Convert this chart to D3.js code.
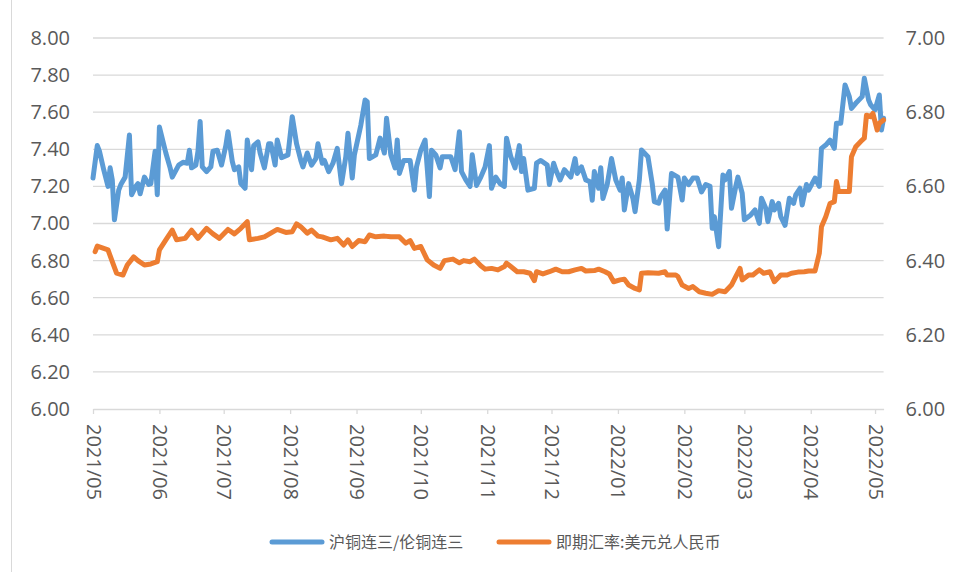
<!DOCTYPE html>
<html><head><meta charset="utf-8">
<script src="https://cdn.jsdelivr.net/npm/d3@7/dist/d3.min.js"></script>
<style>body{margin:0;background:#fff}svg{display:block}</style>
</head><body><svg id="c" width="961" height="572"></svg>
<script>
const seriesNames = ["沪铜连三/伦铜连三", "即期汇率:美元兑人民币"];
const leftTicks = [6.0, 6.2, 6.4, 6.6, 6.8, 7.0, 7.2, 7.4, 7.6, 7.8, 8.0];
const rightTicks = [6.0, 6.2, 6.4, 6.6, 6.8, 7.0];
const monthTicks = ["2021-05-01","2021-06-01","2021-07-01","2021-08-01","2021-09-01","2021-10-01","2021-11-01","2021-12-01","2022-01-01","2022-02-01","2022-03-01","2022-04-01","2022-05-01"];
const copperRatio = [
["2021-05-01",7.245],["2021-05-03",7.42],["2021-05-04",7.39],["2021-05-06",7.29],["2021-05-08",7.20],["2021-05-09",7.30],["2021-05-10",7.235],["2021-05-11",7.02],["2021-05-13",7.18],["2021-05-14",7.21],["2021-05-16",7.25],["2021-05-18",7.477],["2021-05-19",7.155],["2021-05-21",7.20],["2021-05-22",7.215],["2021-05-23",7.16],["2021-05-25",7.25],["2021-05-27",7.21],["2021-05-28",7.215],["2021-05-30",7.39],["2021-05-31",7.155],
["2021-06-01",7.52],["2021-06-04",7.38],["2021-06-06",7.30],["2021-06-07",7.25],["2021-06-10",7.315],["2021-06-12",7.33],["2021-06-14",7.325],["2021-06-15",7.395],["2021-06-16",7.30],["2021-06-18",7.315],["2021-06-19",7.39],["2021-06-20",7.55],["2021-06-21",7.305],["2021-06-23",7.28],["2021-06-25",7.305],["2021-06-26",7.39],["2021-06-28",7.395],["2021-06-30",7.315],
["2021-07-02",7.42],["2021-07-03",7.495],["2021-07-05",7.335],["2021-07-06",7.29],["2021-07-08",7.305],["2021-07-09",7.215],["2021-07-11",7.19],["2021-07-12",7.45],["2021-07-14",7.29],["2021-07-15",7.42],["2021-07-17",7.44],["2021-07-18",7.38],["2021-07-20",7.30],["2021-07-22",7.43],["2021-07-23",7.43],["2021-07-25",7.315],["2021-07-26",7.45],["2021-07-28",7.355],["2021-07-31",7.37],
["2021-08-02",7.576],["2021-08-04",7.43],["2021-08-06",7.34],["2021-08-07",7.305],["2021-08-09",7.38],["2021-08-11",7.315],["2021-08-13",7.35],["2021-08-14",7.43],["2021-08-16",7.325],["2021-08-17",7.34],["2021-08-19",7.28],["2021-08-21",7.325],["2021-08-23",7.405],["2021-08-25",7.215],["2021-08-27",7.36],["2021-08-28",7.486],["2021-08-30",7.245],["2021-08-31",7.37],
["2021-09-03",7.53],["2021-09-05",7.666],["2021-09-06",7.657],["2021-09-07",7.35],["2021-09-10",7.37],["2021-09-12",7.46],["2021-09-14",7.38],["2021-09-15",7.567],["2021-09-17",7.37],["2021-09-19",7.30],["2021-09-20",7.45],["2021-09-21",7.27],["2021-09-23",7.34],["2021-09-26",7.34],["2021-09-28",7.18],["2021-09-29",7.305],
["2021-10-01",7.395],["2021-10-03",7.45],["2021-10-05",7.145],["2021-10-06",7.395],["2021-10-08",7.37],["2021-10-10",7.30],["2021-10-11",7.36],["2021-10-15",7.36],["2021-10-17",7.29],["2021-10-19",7.495],["2021-10-20",7.28],["2021-10-22",7.235],["2021-10-24",7.20],["2021-10-25",7.37],["2021-10-27",7.205],["2021-10-29",7.25],["2021-10-31",7.305],
["2021-11-02",7.42],["2021-11-03",7.19],["2021-11-05",7.25],["2021-11-07",7.215],["2021-11-09",7.20],["2021-11-10",7.46],["2021-11-12",7.36],["2021-11-14",7.30],["2021-11-16",7.42],["2021-11-17",7.28],["2021-11-18",7.35],["2021-11-20",7.18],["2021-11-23",7.19],["2021-11-24",7.325],["2021-11-26",7.34],["2021-11-29",7.315],["2021-11-30",7.21],
["2021-12-02",7.325],["2021-12-03",7.29],["2021-12-05",7.235],["2021-12-07",7.29],["2021-12-10",7.25],["2021-12-12",7.35],["2021-12-13",7.27],["2021-12-15",7.305],["2021-12-17",7.235],["2021-12-19",7.225],["2021-12-20",7.125],["2021-12-21",7.28],["2021-12-23",7.19],["2021-12-24",7.30],["2021-12-25",7.135],["2021-12-27",7.21],["2021-12-29",7.35],["2021-12-31",7.235],
["2022-01-02",7.18],["2022-01-03",7.245],["2022-01-04",7.073],["2022-01-06",7.215],["2022-01-08",7.135],["2022-01-09",7.064],["2022-01-11",7.235],["2022-01-12",7.396],["2022-01-15",7.36],["2022-01-17",7.215],["2022-01-18",7.118],["2022-01-20",7.109],["2022-01-21",7.145],["2022-01-23",7.18],["2022-01-24",6.97],["2022-01-26",7.27],["2022-01-29",7.25],["2022-01-31",7.127],
["2022-02-01",7.245],["2022-02-03",7.21],["2022-02-05",7.245],["2022-02-07",7.245],["2022-02-09",7.17],["2022-02-11",7.21],["2022-02-13",7.20],["2022-02-14",6.974],["2022-02-15",7.037],["2022-02-17",6.875],["2022-02-19",7.261],["2022-02-20",7.235],["2022-02-22",7.28],["2022-02-23",7.082],["2022-02-25",7.20],["2022-02-26",7.25],["2022-02-28",7.163],
["2022-03-01",7.02],["2022-03-04",7.046],["2022-03-06",7.073],["2022-03-08",7.001],["2022-03-09",7.136],["2022-03-11",7.082],["2022-03-12",7.01],["2022-03-14",7.118],["2022-03-15",7.073],["2022-03-17",7.109],["2022-03-18",7.037],["2022-03-20",6.99],["2022-03-22",7.136],["2022-03-24",7.109],["2022-03-25",7.154],["2022-03-27",7.19],["2022-03-28",7.10],["2022-03-30",7.21],["2022-03-31",7.18],
["2022-04-03",7.245],["2022-04-05",7.20],["2022-04-06",7.405],["2022-04-08",7.423],["2022-04-10",7.45],["2022-04-12",7.405],["2022-04-13",7.54],["2022-04-15",7.54],["2022-04-17",7.747],["2022-04-19",7.684],["2022-04-20",7.62],["2022-04-22",7.648],["2022-04-25",7.684],["2022-04-26",7.783],["2022-04-28",7.666],["2022-04-29",7.639],
["2022-05-01",7.612],["2022-05-03",7.693],["2022-05-04",7.504],["2022-05-05",7.567]
];
const usdCny = [
["2021-05-02",6.424],["2021-05-03",6.439],["2021-05-06",6.433],["2021-05-08",6.429],["2021-05-10",6.397],["2021-05-12",6.366],["2021-05-15",6.361],["2021-05-17",6.388],["2021-05-20",6.41],["2021-05-22",6.40],["2021-05-25",6.388],["2021-05-28",6.391],["2021-05-31",6.397],
["2021-06-01",6.429],["2021-06-04",6.456],["2021-06-07",6.482],["2021-06-09",6.456],["2021-06-13",6.46],["2021-06-16",6.482],["2021-06-19",6.46],["2021-06-23",6.487],["2021-06-26",6.472],["2021-06-29",6.46],
["2021-07-03",6.484],["2021-07-06",6.472],["2021-07-09",6.487],["2021-07-12",6.505],["2021-07-13",6.456],["2021-07-17",6.46],["2021-07-20",6.464],["2021-07-23",6.474],["2021-07-26",6.484],["2021-07-30",6.476],
["2021-08-02",6.478],["2021-08-04",6.499],["2021-08-06",6.491],["2021-08-09",6.474],["2021-08-11",6.482],["2021-08-14",6.466],["2021-08-16",6.464],["2021-08-20",6.456],["2021-08-23",6.46],["2021-08-26",6.442],["2021-08-28",6.456],["2021-08-30",6.438],
["2021-09-02",6.454],["2021-09-05",6.451],["2021-09-07",6.469],["2021-09-10",6.464],["2021-09-14",6.466],["2021-09-17",6.464],["2021-09-21",6.464],["2021-09-24",6.447],["2021-09-26",6.454],["2021-09-28",6.433],
["2021-10-01",6.438],["2021-10-04",6.402],["2021-10-07",6.388],["2021-10-10",6.379],["2021-10-12",6.40],["2021-10-16",6.404],["2021-10-19",6.394],["2021-10-21",6.40],["2021-10-24",6.397],["2021-10-26",6.404],["2021-10-29",6.386],["2021-10-31",6.377],
["2021-11-03",6.379],["2021-11-06",6.375],["2021-11-09",6.384],["2021-11-10",6.393],["2021-11-12",6.384],["2021-11-15",6.37],["2021-11-18",6.37],["2021-11-21",6.366],["2021-11-23",6.346],["2021-11-24",6.37],["2021-11-27",6.364],["2021-11-30",6.37],
["2021-12-03",6.377],["2021-12-06",6.37],["2021-12-09",6.37],["2021-12-12",6.375],["2021-12-15",6.379],["2021-12-17",6.372],["2021-12-21",6.373],["2021-12-23",6.377],["2021-12-26",6.37],["2021-12-28",6.364],["2021-12-30",6.343],
["2022-01-02",6.348],["2022-01-04",6.35],["2022-01-06",6.334],["2022-01-09",6.325],["2022-01-11",6.321],["2022-01-12",6.366],["2022-01-15",6.367],["2022-01-20",6.366],["2022-01-23",6.37],["2022-01-24",6.361],["2022-01-28",6.361],["2022-01-29",6.357],["2022-01-31",6.334],
["2022-02-03",6.325],["2022-02-05",6.33],["2022-02-08",6.316],["2022-02-11",6.312],["2022-02-14",6.309],["2022-02-17",6.319],["2022-02-20",6.316],["2022-02-23",6.334],["2022-02-25",6.357],["2022-02-27",6.379],["2022-02-28",6.348],
["2022-03-03",6.361],["2022-03-05",6.361],["2022-03-08",6.375],["2022-03-10",6.366],["2022-03-13",6.37],["2022-03-15",6.343],["2022-03-18",6.361],["2022-03-21",6.361],["2022-03-23",6.366],["2022-03-26",6.369],["2022-03-29",6.37],["2022-03-31",6.372],
["2022-04-03",6.372],["2022-04-05",6.42],["2022-04-06",6.491],["2022-04-08",6.518],["2022-04-10",6.554],["2022-04-12",6.559],["2022-04-13",6.613],["2022-04-14",6.586],["2022-04-16",6.586],["2022-04-19",6.586],["2022-04-20",6.68],["2022-04-22",6.707],["2022-04-25",6.725],["2022-04-26",6.73],["2022-04-27",6.792],["2022-04-29",6.788],["2022-04-30",6.797],
["2022-05-02",6.752],["2022-05-03",6.77],["2022-05-05",6.779]
];

const parse = d3.timeParse("%Y-%m-%d");
const fmt = d3.timeFormat("%Y/%m");
const svg = d3.select("#c");
svg.append("rect").attr("width",961).attr("height",572).attr("fill","#fff");
svg.append("line").attr("x1",11.5).attr("x2",11.5).attr("y1",0).attr("y2",572).attr("stroke","#d9d9d9").attr("stroke-width",1);

const x0 = 93, x1 = 883.6, yTop = 38, yBot = 409;
const x = d3.scaleTime().domain([parse("2021-05-01"), parse("2022-05-05")]).range([x0, x1]);
const yL = d3.scaleLinear().domain([6, 8]).range([yBot, yTop]);
const yR = d3.scaleLinear().domain([6, 7]).range([yBot, yTop]);
const font = "'Open Sans', sans-serif";
const gray = "#595959";

// gridlines
svg.append("g").selectAll("line").data(leftTicks.slice(1)).join("line")
  .attr("x1", x0).attr("x2", x1).attr("y1", d => yL(d)).attr("y2", d => yL(d))
  .attr("stroke", "#d9d9d9").attr("stroke-width", 1.3);

// left axis
const gl = svg.append("g").attr("transform", `translate(${x0},0)`)
  .call(d3.axisLeft(yL).tickValues(leftTicks).tickFormat(d3.format(".2f")).tickSize(0).tickPadding(23));
gl.select(".domain").remove();
gl.selectAll("text").attr("font-family", font).attr("font-size", 20).attr("fill", gray);

// right axis
const gr = svg.append("g").attr("transform", `translate(${x1},0)`)
  .call(d3.axisRight(yR).tickValues(rightTicks).tickFormat(d3.format(".2f")).tickSize(0).tickPadding(22));
gr.select(".domain").remove();
gr.selectAll("text").attr("font-family", font).attr("font-size", 20).attr("fill", gray);

// bottom axis
const gb = svg.append("g").attr("transform", `translate(0,${yBot})`)
  .call(d3.axisBottom(x).tickValues(monthTicks.map(parse)).tickFormat(fmt).tickSize(5).tickSizeOuter(0));
gb.select(".domain").attr("stroke", "#d9d9d9").attr("stroke-width", 1.3);
gb.selectAll(".tick line").attr("stroke", "#d9d9d9").attr("stroke-width", 1.3);
gb.selectAll("text").attr("font-family", font).attr("font-size", 20).attr("fill", gray)
  .attr("transform", "rotate(90)").attr("text-anchor", "start")
  .attr("x", 15).attr("y", 0).attr("dy", "0.35em");

// lines
const lineL = d3.line().x(d => x(parse(d[0]))).y(d => yL(d[1])).curve(d3.curveLinear);
const lineR = d3.line().x(d => x(parse(d[0]))).y(d => yR(d[1])).curve(d3.curveLinear);
svg.append("path").datum(copperRatio).attr("d", lineL).attr("fill", "none")
  .attr("stroke", "#5B9BD5").attr("stroke-width", 5).attr("stroke-linejoin", "round").attr("stroke-linecap", "round");
svg.append("path").datum(usdCny).attr("d", lineR).attr("fill", "none")
  .attr("stroke", "#ED7D31").attr("stroke-width", 5).attr("stroke-linejoin", "round").attr("stroke-linecap", "round");

// legend
const colors = ["#5B9BD5", "#ED7D31"];
const legX = [272, 499];
const lg = svg.append("g");
seriesNames.forEach((name, i) => {
  lg.append("line").attr("x1", legX[i]).attr("x2", legX[i] + 50).attr("y1", 542).attr("y2", 542)
    .attr("stroke", colors[i]).attr("stroke-width", 5).attr("stroke-linecap", "round");
  lg.append("text").attr("x", legX[i] + 57).attr("y", 542).attr("dy", "0.35em")
    .attr("font-family", "'Noto Sans CJK SC', sans-serif").attr("font-size", 16).attr("fill", gray).text(name);
});
</script></body></html>
